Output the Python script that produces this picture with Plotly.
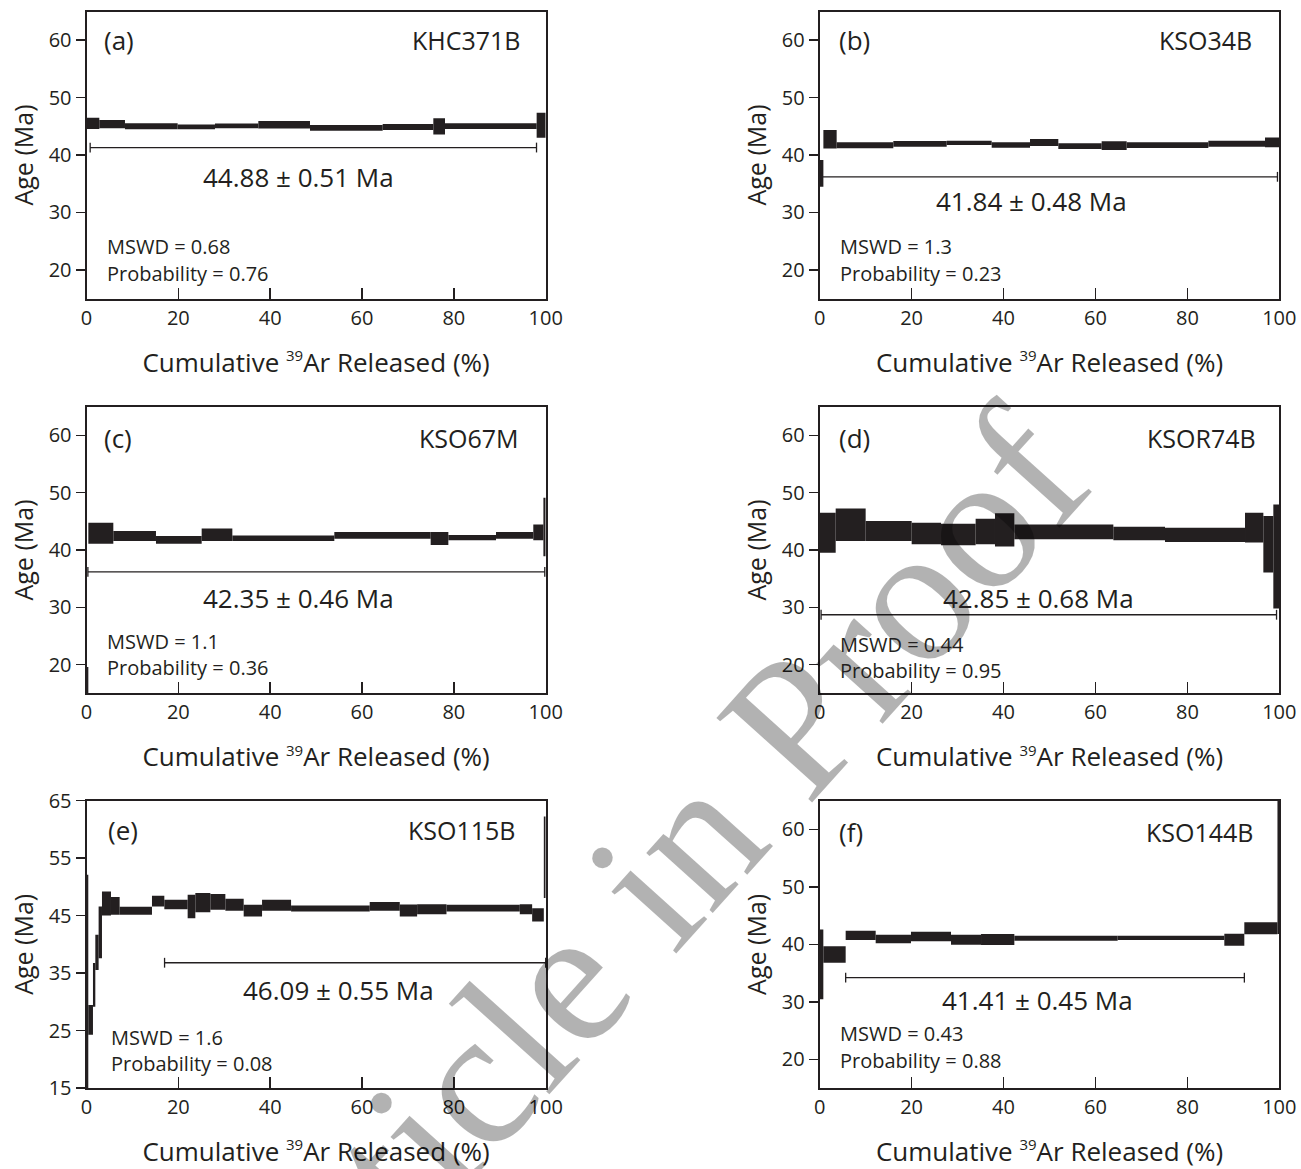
import plotly.graph_objects as go

BLACK = "#231f20"
FONT = "Open Sans"

# ---------------- data ----------------
# (a) KHC371B
a_edges = [0, 2.79, 8.38, 19.85, 27.98, 37.42, 48.67, 64.5, 75.53, 78.07, 98.03, 100]
a_age = [45.5, 45.36, 44.99, 44.9, 45.07, 45.27, 44.72, 44.87, 44.99, 45.05, 45.18]
a_err = [0.98, 0.72, 0.52, 0.43, 0.43, 0.64, 0.5, 0.52, 1.4, 0.5, 2.18]
a_plat_x = [0.8, 98.0]
a_plat_y = 41.3

# (b) KSO34B
b_edges = [0, 0.8, 3.69, 16.02, 27.63, 37.42, 45.76, 51.92, 61.35, 66.79, 84.56, 96.89, 100]
b_age = [36.8, 42.75, 41.7, 41.94, 42.1, 41.74, 42.17, 41.54, 41.63, 41.71, 41.97, 42.2]
b_err = [2.35, 1.6, 0.52, 0.49, 0.37, 0.46, 0.6, 0.5, 0.75, 0.49, 0.52, 0.87]
b_plat_x = [0.3, 99.6]
b_plat_y = 36.2

# (c) KSO67M
c_edges = [0, 0.4, 5.84, 15.13, 25.08, 31.76, 53.97, 74.95, 78.8, 89.18, 97.3, 99.5, 100]
c_age = [16.0, 42.93, 42.43, 41.77, 42.67, 42.06, 42.55, 42.0, 42.15, 42.55, 43.08, 44.0]
c_err = [3.6, 1.83, 0.87, 0.67, 1.1, 0.49, 0.58, 1.13, 0.46, 0.58, 1.39, 5.1]
c_plat_x = [0.3, 99.8]
c_plat_y = 36.2

# (d) KSOR74B
d_edges = [0, 3.48, 10.0, 20.01, 26.39, 33.93, 38.14, 42.35, 63.89, 75.13, 92.54, 96.53, 98.7, 100]
d_age = [43.0, 44.41, 43.31, 42.88, 42.7, 43.23, 43.49, 43.17, 42.88, 42.65, 43.9, 40.99, 38.88]
d_err = [3.5, 2.84, 1.74, 1.88, 1.88, 2.23, 2.9, 1.3, 1.19, 1.25, 2.6, 4.92, 9.07]
d_plat_x = [0.3, 99.4]
d_plat_y = 28.7

# (e) KSO115B
e_edges = [0, 0.39, 1.41, 1.92, 2.64, 3.37, 5.33, 7.22, 14.26, 16.95, 22.03, 23.7, 26.97,
           30.24, 34.23, 38.23, 44.55, 61.68, 68.22, 72.0, 78.39, 94.36, 97.05, 99.59, 100]
e_age = [33.5, 26.85, 32.95, 38.6, 42.1, 47.1, 46.68, 45.84, 47.52, 46.94, 46.59, 47.26,
         47.38, 46.88, 45.87, 46.8, 46.24, 46.6, 45.9, 46.13, 46.3, 46.13, 45.14, 55.16]
e_err = [18.6, 2.6, 3.8, 3.05, 4.5, 2.1, 1.54, 0.7, 0.93, 0.81, 2.03, 1.66,
         1.37, 1.04, 1.02, 0.96, 0.52, 0.75, 1.05, 0.87, 0.58, 0.87, 1.16, 7.11]
e_plat_x = [17.0, 100]
e_plat_y = 36.8

# (f) KSO144B
f_edges = [0, 0.79, 5.65, 12.18, 19.86, 28.57, 35.1, 42.35, 64.83, 88.04, 92.39, 99.6, 100]
f_age = [36.5, 38.22, 41.57, 40.93, 41.37, 40.82, 40.85, 41.07, 41.13, 40.8, 42.8, 56.0]
f_err = [6.07, 1.44, 0.81, 0.75, 0.83, 0.87, 0.95, 0.44, 0.38, 1.03, 1.05, 14.2]
f_plat_x = [5.65, 92.4]
f_plat_y = 34.2

panel_letters = ["(a)", "(b)", "(c)", "(d)", "(e)", "(f)"]
sample_names = ["KHC371B", "KSO34B", "KSO67M", "KSOR74B", "KSO115B", "KSO144B"]
plateau_ages = ["44.88 ± 0.51 Ma", "41.84 ± 0.48 Ma", "42.35 ± 0.46 Ma",
                "42.85 ± 0.68 Ma", "46.09 ± 0.55 Ma", "41.41 ± 0.45 Ma"]
mswd_values = ["0.68", "1.3", "1.1", "0.44", "1.6", "0.43"]
prob_values = ["0.76", "0.23", "0.36", "0.95", "0.08", "0.88"]

y_ticks_std = [20, 30, 40, 50, 60]
y_ticks_e = [15, 25, 35, 45, 55, 65]
x_ticks = [0, 20, 40, 60, 80, 100]

# ---------------- layout config ----------------
W, H = 1301, 1169
col_px = [(86.5, 545.7), (819.7, 1279.3)]
row_px = [(11.5, 298.5), (406.7, 693.3), (800.7, 1088.0)]

# annotation placement per panel (data coordinates)
text_pos = [
    dict(letter=(3.3, 60.0), sample=(95.1, 60.0), plat=(46.1, 36.2), mswd=(4.0, 24.0), prob=(4.0, 19.4)),
    dict(letter=(3.7, 60.0), sample=(94.6, 60.0), plat=(46.1, 31.9), mswd=(4.0, 24.0), prob=(4.0, 19.4)),
    dict(letter=(3.3, 59.5), sample=(94.6, 59.5), plat=(46.1, 31.6), mswd=(4.0, 24.1), prob=(4.0, 19.5)),
    dict(letter=(3.7, 59.5), sample=(95.4, 59.5), plat=(47.6, 31.6), mswd=(4.0, 23.6), prob=(4.0, 18.9)),
    dict(letter=(4.3, 59.9), sample=(93.9, 59.9), plat=(54.9, 32.1), mswd=(5.0, 23.8), prob=(5.0, 19.3)),
    dict(letter=(3.7, 59.6), sample=(94.9, 59.6), plat=(47.3, 30.3), mswd=(3.9, 24.4), prob=(3.9, 19.7)),
]

panels = [
    (a_edges, a_age, a_err, a_plat_x, a_plat_y),
    (b_edges, b_age, b_err, b_plat_x, b_plat_y),
    (c_edges, c_age, c_err, c_plat_x, c_plat_y),
    (d_edges, d_age, d_err, d_plat_x, d_plat_y),
    (e_edges, e_age, e_err, e_plat_x, e_plat_y),
    (f_edges, f_age, f_err, f_plat_x, f_plat_y),
]

fig = go.Figure()
annotations = []

# watermark (drawn first so panel texts sit on top)
annotations.append(dict(
    text="Article in Proof", xref="paper", yref="paper",
    x=639 / W, y=1 - 896 / H, xanchor="center", yanchor="middle",
    showarrow=False, textangle=-48,
    font=dict(family="Liberation Serif", size=195, color="rgba(0,0,0,0.3)"),
))

x_title = 'Cumulative <sup><span style="font-size:15px">39</span></sup>Ar Released (%)'

layout_axes = {}
for i, (edges, age, err, plat_x, plat_y) in enumerate(panels):
    r, c = divmod(i, 2)
    n = "" if i == 0 else str(i + 1)
    xa, ya = "x" + n, "y" + n
    centers = [(edges[k] + edges[k + 1]) / 2 for k in range(len(age))]
    widths = [edges[k + 1] - edges[k] for k in range(len(age))]
    base = [a - e for a, e in zip(age, err)]
    heights = [2 * e for e in err]
    fig.add_trace(go.Bar(
        x=centers, y=heights, base=base, width=widths,
        marker=dict(color=BLACK, line=dict(width=0)),
        xaxis=xa, yaxis=ya, showlegend=False, hoverinfo="skip",
    ))
    fig.add_trace(go.Scatter(
        x=plat_x, y=[plat_y, plat_y], mode="lines+markers",
        line=dict(color=BLACK, width=1.3),
        marker=dict(symbol="line-ns", size=7, line=dict(color=BLACK, width=1.3)),
        xaxis=xa, yaxis=ya, showlegend=False, hoverinfo="skip", cliponaxis=False,
    ))

    x0, x1 = col_px[c]
    y0, y1 = row_px[r]
    yt = y_ticks_e if i == 4 else y_ticks_std
    layout_axes["xaxis" + n] = dict(
        domain=[x0 / W, x1 / W], anchor=ya, range=[0, 100], automargin=False,
        tickvals=x_ticks, ticks="inside", ticklen=11, tickwidth=1.5, tickcolor=BLACK,
        showline=True, linewidth=2, linecolor=BLACK, mirror=True,
        showgrid=False, zeroline=False,
        tickfont=dict(family=FONT, size=20, color=BLACK),
        title=dict(text=x_title, font=dict(family=FONT, size=26, color=BLACK), standoff=24),
    )
    layout_axes["yaxis" + n] = dict(
        domain=[1 - y1 / H, 1 - y0 / H], anchor=xa, range=[15, 65], automargin=False,
        tickvals=yt, ticks="outside", ticklen=9, tickwidth=1.5, tickcolor=BLACK,
        showline=True, linewidth=2, linecolor=BLACK, mirror=True,
        showgrid=False, zeroline=False,
        tickfont=dict(family=FONT, size=20, color=BLACK),
        title=dict(text="Age (Ma)", font=dict(family=FONT, size=25, color=BLACK), standoff=8),
    )

    tp = text_pos[i]
    common = dict(xref=xa, yref=ya, showarrow=False)
    annotations.append(dict(text=panel_letters[i], x=tp["letter"][0], y=tp["letter"][1],
                            xanchor="left", yanchor="middle",
                            font=dict(family=FONT, size=26, color=BLACK), **common))
    annotations.append(dict(text=sample_names[i], x=tp["sample"][0], y=tp["sample"][1],
                            xanchor="right", yanchor="middle",
                            font=dict(family=FONT, size=25, color=BLACK), **common))
    annotations.append(dict(text=plateau_ages[i], x=tp["plat"][0], y=tp["plat"][1],
                            xanchor="center", yanchor="middle",
                            font=dict(family=FONT, size=26, color=BLACK), **common))
    annotations.append(dict(text="MSWD = " + mswd_values[i], x=tp["mswd"][0], y=tp["mswd"][1],
                            xanchor="left", yanchor="middle",
                            font=dict(family=FONT, size=20, color=BLACK), **common))
    annotations.append(dict(text="Probability = " + prob_values[i], x=tp["prob"][0], y=tp["prob"][1],
                            xanchor="left", yanchor="middle",
                            font=dict(family=FONT, size=20, color=BLACK), **common))

fig.update_layout(
    width=W, height=H,
    margin=dict(l=0, r=0, t=0, b=0, autoexpand=False),
    paper_bgcolor="white", plot_bgcolor="white",
    barmode="overlay", showlegend=False,
    annotations=annotations,
    **layout_axes,
)

fig.write_html(
    "out.html",
    config={"displayModeBar": False, "staticPlot": True},
    post_script="document.body.style.margin='0';document.body.style.padding='0';document.body.style.overflow='hidden';",
)
